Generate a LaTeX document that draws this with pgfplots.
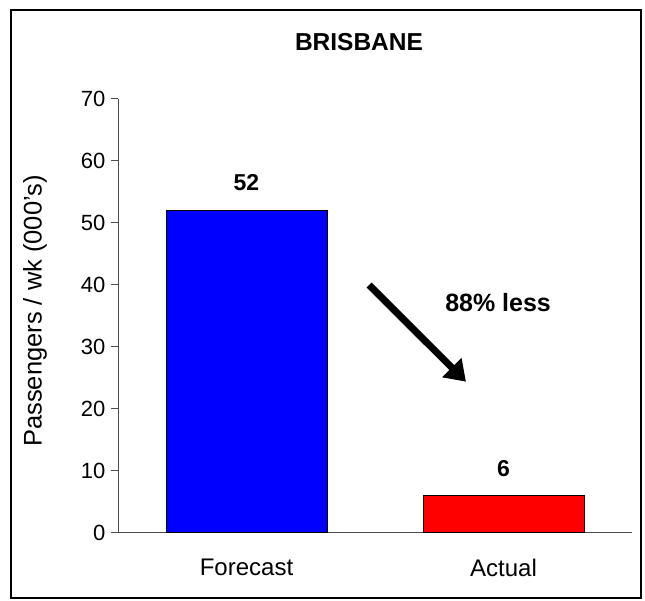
\documentclass[border=0pt]{standalone}
\usepackage{pgfplots}
\pgfplotsset{compat=1.18}
\usetikzlibrary{arrows.meta}
\usepackage{fontspec}
\setmainfont{Liberation Sans}
\begin{document}
\begin{tikzpicture}[x=1pt,y=1pt]
\useasboundingbox (0,0) rectangle (645,601);
\draw[line width=1.5pt] (11,3) rectangle (641,591);
\node[font=\fontsize{24.5}{27}\selectfont\bfseries] at (359,559) {BRISBANE};
\node[rotate=90,font=\fontsize{25.5}{28}\selectfont] at (35,290) {Passengers / wk (000's)};
\begin{axis}[
  at={(118pt,68pt)}, anchor=south west,
  scale only axis, width=514pt, height=434pt,
  ymin=0, ymax=70, ytick={0,10,...,70},
  xmin=-0.5, xmax=1.5,
  xtick={0,1}, xticklabels={Forecast,Actual},
  axis x line=bottom, axis y line=left,
  axis line style={draw=black!70, line width=1pt, -},
  x axis line style={-}, y axis line style={-},
  xtick style={draw=none},
  ytick style={draw=black!70, line width=1pt},
  tick align=outside, major tick length=7pt,
  /pgf/number format/assume math mode=true,
  yticklabel style={font=\fontsize{22}{24}\selectfont, xshift=-2pt},
  xticklabel style={font=\fontsize{24}{26}\selectfont, inner sep=0pt, yshift=-19pt},
  ybar, bar width=161pt, bar shift=0pt,
  nodes near coords,
  every node near coord/.append style={font=\fontsize{23}{26}\selectfont\bfseries, inner sep=0pt, anchor=south, yshift=19pt},
  clip=false,
]
\addplot[fill={rgb,255:red,0;green,0;blue,255}, draw=black, line width=1pt] coordinates {(0,52)};
\addplot[fill={rgb,255:red,255;green,0;blue,0}, draw=black, line width=1pt] coordinates {(1,6)};
\draw[line width=7pt, -{Triangle[length=20pt,width=26pt]}] (axis cs:0.477,40) -- (axis cs:0.854,24.4);
\node[font=\fontsize{25}{28}\selectfont\bfseries] at (axis cs:0.979,37.1) {88\% less};
\end{axis}
\end{tikzpicture}
\end{document}
